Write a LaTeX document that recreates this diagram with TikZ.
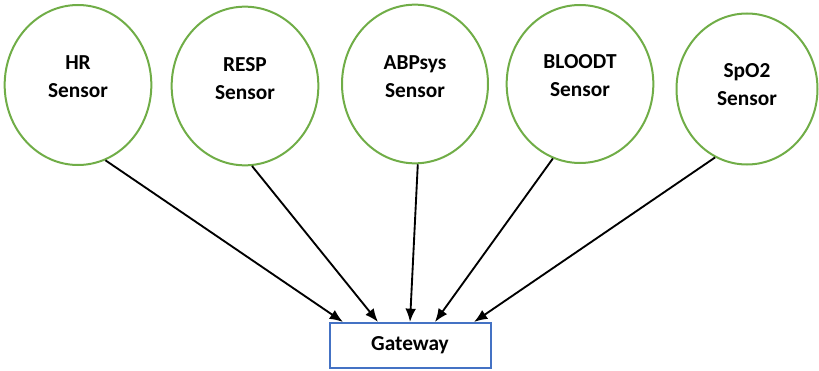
\documentclass[tikz,border=0pt]{standalone}
\usepackage{fontspec}
\setmainfont{Carlito}
\usetikzlibrary{shapes.geometric,arrows.meta}
\definecolor{sensorgreen}{HTML}{70AD47}
\definecolor{gateblue}{HTML}{4472C4}

\begin{document}
\begin{tikzpicture}[x=0.75pt,y=-0.75pt,
	sensor_node/.style={ellipse,draw=sensorgreen,line width=1.5pt,inner sep=0pt},
	sensor_text/.style={align=center,font=\fontsize{16}{21}\selectfont\bfseries},
	gate_node/.style={rectangle,draw=gateblue,line width=1.5pt,minimum width=120.75pt,minimum height=33.75pt,font=\fontsize{16}{21}\selectfont\bfseries},
	link/.style={-{Latex[length=10pt,width=8pt]},line width=1.4pt}]
	\useasboundingbox (0,0) rectangle (819,371);

	\node[sensor_node,minimum width=110pt,minimum height=120pt] (hr) at (78,85) {};
	\node[sensor_node,minimum width=110pt,minimum height=119pt] (resp) at (245,86) {};
	\node[sensor_node,minimum width=109.5pt,minimum height=119pt] (abp) at (415,84) {};
	\node[sensor_node,minimum width=110pt,minimum height=118.5pt] (bloodt) at (580,84) {};
	\node[sensor_node,minimum width=105.75pt,minimum height=113.25pt] (spo2) at (747,89) {};

	\node[sensor_text] (hr_txt) at (78,77) {HR\\Sensor};
	\node[sensor_text] (resp_txt) at (245,79) {RESP\\Sensor};
	\node[sensor_text] (abp_txt) at (415,76.5) {ABPsys\\Sensor};
	\node[sensor_text] (bloodt_txt) at (580,75.5) {BLOODT\\Sensor};
	\node[sensor_text] (spo2_txt) at (747,84.5) {SpO2\\Sensor};

	\node[gate_node] (gw) at (410,345) {Gateway};

	\coordinate (in_hr) at (343,322);
	\coordinate (in_resp) at (378,322);
	\coordinate (in_abp) at (410,322);
	\coordinate (in_bloodt) at (435,322);
	\coordinate (in_spo2) at (474,322);

	\draw[link] (hr.-70) -- (in_hr);
	\draw[link] (resp.-85) -- (in_resp);
	\draw[link] (abp.-88.5) -- (in_abp);
	\draw[link] (bloodt.-110) -- (in_bloodt);
	\draw[link] (spo2.-115) -- (in_spo2);
\end{tikzpicture}
\end{document}
